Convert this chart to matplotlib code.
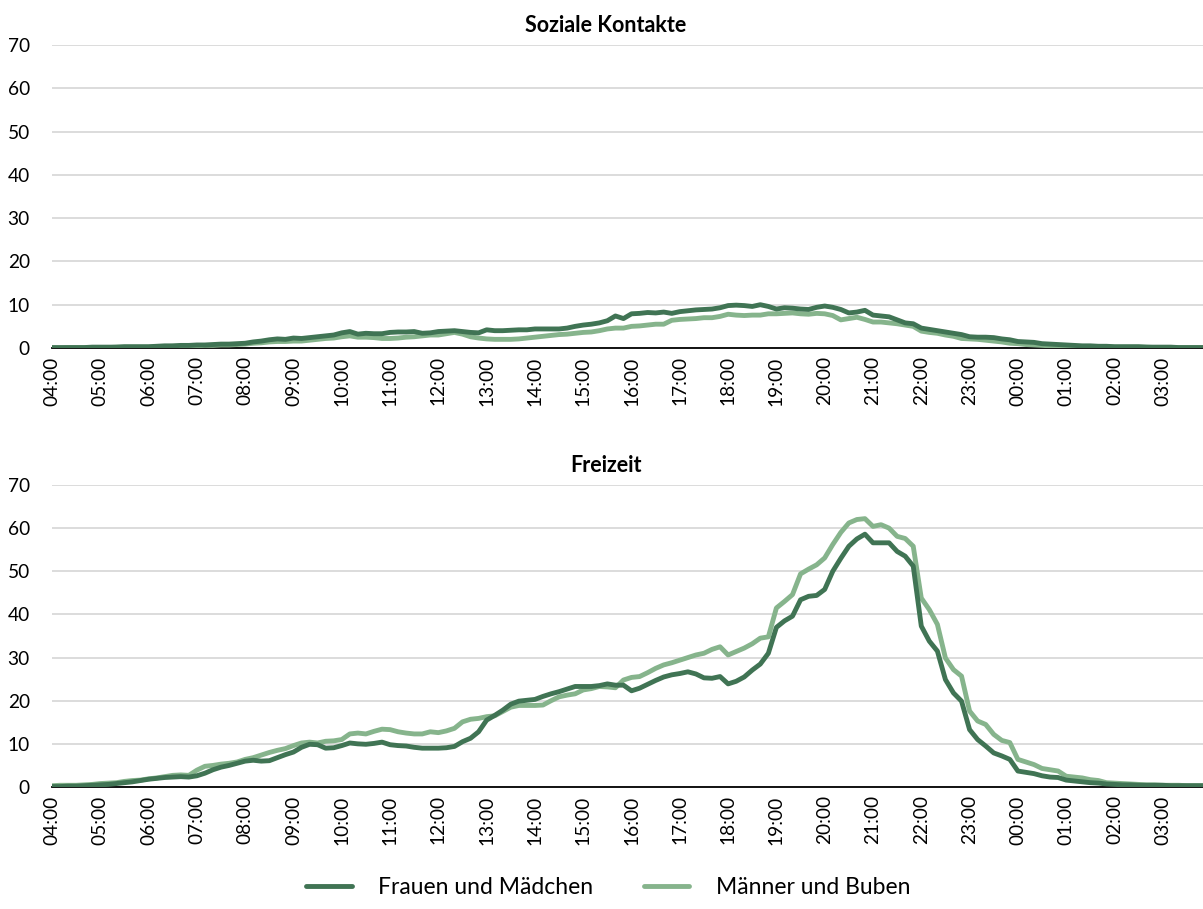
import matplotlib
matplotlib.use("Agg")
import matplotlib.pyplot as plt
import numpy as np

# 10-minute slots from 04:00 to 03:50
hour_labels = ["04:00", "05:00", "06:00", "07:00", "08:00", "09:00", "10:00", "11:00",
               "12:00", "13:00", "14:00", "15:00", "16:00", "17:00", "18:00", "19:00",
               "20:00", "21:00", "22:00", "23:00", "00:00", "01:00", "02:00", "03:00"]

series_names = ["Frauen und Mädchen", "Männer und Buben"]
panel_titles = ["Soziale Kontakte", "Freizeit"]

kontakte_frauen = [
    0.1, 0.1, 0.1, 0.1, 0.1, 0.2,
    0.2, 0.2, 0.2, 0.3, 0.3, 0.3,
    0.3, 0.4, 0.5, 0.5, 0.6, 0.6,
    0.7, 0.7, 0.8, 0.9, 0.9, 1.0,
    1.1, 1.4, 1.6, 1.9, 2.1, 2.0,
    2.3, 2.2, 2.4, 2.6, 2.8, 3.0,
    3.5, 3.8, 3.2, 3.4, 3.3, 3.3,
    3.6, 3.7, 3.7, 3.8, 3.4, 3.5,
    3.8, 3.9, 4.0, 3.8, 3.6, 3.5,
    4.2, 4.0, 4.0, 4.1, 4.2, 4.2,
    4.4, 4.4, 4.4, 4.4, 4.6, 5.0,
    5.3, 5.5, 5.8, 6.3, 7.4, 6.8,
    7.9, 8.0, 8.2, 8.1, 8.3, 8.0,
    8.4, 8.6, 8.8, 8.9, 9.0, 9.3,
    9.8, 9.9, 9.8, 9.6, 10.0, 9.6,
    9.0, 9.3, 9.2, 9.0, 8.9, 9.4,
    9.7, 9.4, 8.9, 8.1, 8.3, 8.7,
    7.6, 7.4, 7.2, 6.5, 5.8, 5.6,
    4.6, 4.3, 4.0, 3.7, 3.4, 3.1,
    2.6, 2.5, 2.5, 2.4, 2.1, 1.9,
    1.5, 1.4, 1.3, 1.0, 0.9, 0.8,
    0.7, 0.6, 0.5, 0.5, 0.4, 0.4,
    0.3, 0.3, 0.3, 0.3, 0.2, 0.2,
    0.2, 0.2, 0.1, 0.1, 0.1, 0.1,
]

kontakte_maenner = [
    0.0, 0.0, 0.1, 0.1, 0.1, 0.1,
    0.1, 0.1, 0.2, 0.2, 0.2, 0.2,
    0.2, 0.3, 0.3, 0.4, 0.4, 0.5,
    0.5, 0.6, 0.6, 0.7, 0.7, 0.8,
    0.9, 1.1, 1.2, 1.4, 1.5, 1.5,
    1.6, 1.6, 1.8, 2.0, 2.2, 2.3,
    2.6, 2.8, 2.5, 2.5, 2.4, 2.2,
    2.2, 2.3, 2.5, 2.6, 2.8, 3.0,
    3.0, 3.3, 3.6, 3.2, 2.6, 2.3,
    2.1, 2.0, 2.0, 2.0, 2.1, 2.3,
    2.5, 2.7, 2.9, 3.1, 3.2, 3.4,
    3.6, 3.7, 4.0, 4.4, 4.6, 4.6,
    5.0, 5.1, 5.3, 5.5, 5.5, 6.4,
    6.6, 6.7, 6.8, 7.0, 7.0, 7.3,
    7.8, 7.6, 7.5, 7.6, 7.6, 7.9,
    7.9, 8.0, 8.1, 7.9, 7.8, 8.0,
    7.9, 7.5, 6.5, 6.8, 7.1, 6.6,
    6.0, 6.0, 5.8, 5.6, 5.3, 5.0,
    3.9, 3.6, 3.4, 3.0, 2.7, 2.2,
    2.1, 2.0, 1.8, 1.6, 1.4, 1.1,
    1.0, 0.8, 0.7, 0.6, 0.5, 0.5,
    0.4, 0.4, 0.3, 0.3, 0.3, 0.3,
    0.2, 0.2, 0.2, 0.2, 0.2, 0.1,
    0.1, 0.1, 0.1, 0.1, 0.1, 0.1,
]

freizeit_frauen = [
    0.1, 0.1, 0.2, 0.2, 0.3, 0.4,
    0.5, 0.6, 0.8, 1.0, 1.2, 1.5,
    1.8, 2.0, 2.2, 2.3, 2.4, 2.3,
    2.6, 3.2, 4.0, 4.6, 5.0, 5.5,
    6.0, 6.2, 6.0, 6.1, 6.8, 7.5,
    8.1, 9.2, 9.9, 9.8, 9.0, 9.1,
    9.6, 10.2, 10.0, 9.9, 10.1, 10.4,
    9.8, 9.6, 9.5, 9.2, 9.0, 9.0,
    9.0, 9.1, 9.4, 10.5, 11.3, 12.8,
    15.5, 16.6, 17.8, 19.2, 19.9, 20.1,
    20.3, 21.0, 21.6, 22.1, 22.7, 23.3,
    23.3, 23.3, 23.5, 23.9, 23.6, 23.6,
    22.3, 22.9, 23.8, 24.7, 25.5, 26.0,
    26.3, 26.7, 26.2, 25.3, 25.2, 25.6,
    23.9, 24.5, 25.5, 27.1, 28.5, 31.0,
    37.0, 38.5, 39.6, 43.4, 44.2, 44.4,
    45.8, 50.0, 53.0, 55.8, 57.5, 58.6,
    56.6, 56.6, 56.6, 54.6, 53.5, 51.2,
    37.3, 33.8, 31.5, 24.9, 21.8, 19.9,
    13.3, 11.0, 9.5, 7.9, 7.2, 6.4,
    3.7, 3.4, 3.1, 2.6, 2.3, 2.2,
    1.6, 1.4, 1.2, 1.0, 0.9, 0.7,
    0.6, 0.5, 0.5, 0.4, 0.4, 0.4,
    0.4, 0.3, 0.3, 0.3, 0.3, 0.3,
]

freizeit_maenner = [
    0.3, 0.4, 0.4, 0.4, 0.5, 0.6,
    0.8, 0.9, 1.0, 1.3, 1.5, 1.6,
    1.9, 2.1, 2.4, 2.7, 2.8, 2.7,
    3.9, 4.8, 5.0, 5.3, 5.5, 5.8,
    6.4, 6.8, 7.4, 8.0, 8.5, 8.9,
    9.6, 10.2, 10.4, 10.2, 10.6, 10.7,
    11.0, 12.3, 12.5, 12.3, 12.9, 13.4,
    13.3, 12.8, 12.5, 12.3, 12.3, 12.8,
    12.6, 13.0, 13.6, 15.1, 15.7, 15.9,
    16.3, 16.5, 17.5, 18.5, 18.9, 18.9,
    18.9, 19.0, 20.0, 20.9, 21.3, 21.6,
    22.5, 22.8, 23.3, 23.2, 23.0, 24.8,
    25.4, 25.6, 26.5, 27.5, 28.3, 28.8,
    29.4, 30.0, 30.6, 31.0, 31.9, 32.5,
    30.6, 31.4, 32.2, 33.2, 34.5, 34.8,
    41.5, 43.0, 44.6, 49.4, 50.5, 51.5,
    53.1, 56.2, 59.0, 61.2, 62.0, 62.2,
    60.4, 60.8, 60.0, 58.1, 57.6, 55.8,
    43.8, 41.1, 37.7, 29.9, 27.2, 25.7,
    17.6, 15.3, 14.5, 12.2, 10.8, 10.3,
    6.4, 5.8, 5.2, 4.3, 4.0, 3.7,
    2.5, 2.3, 2.1, 1.7, 1.5, 1.0,
    0.9, 0.8, 0.7, 0.6, 0.5, 0.5,
    0.4, 0.4, 0.4, 0.3, 0.3, 0.3,
]

color_dark = "#407454"
color_light = "#86B48C"

plt.rcParams['font.family'] = ['Lato', 'DejaVu Sans']

W, H = 1203, 909
fig = plt.figure(figsize=(W / 100, H / 100), dpi=100)

def add_axes_px(left, top, right, bottom):
    return fig.add_axes([left / W, 1 - bottom / H, (right - left) / W, (bottom - top) / H])

ax_top = add_axes_px(52, 45, 1203, 348)
ax_bot = add_axes_px(52, 485, 1203, 787)

panels = [
    (ax_top, panel_titles[0], kontakte_frauen, kontakte_maenner, 25),
    (ax_bot, panel_titles[1], freizeit_frauen, freizeit_maenner, 465),
]

n = len(kontakte_frauen)
x = np.arange(n)

for ax, title, frauen, maenner, ty in panels:
    ax.plot(x, maenner, color=color_light, lw=3.5, solid_joinstyle='round',
            solid_capstyle='round', label=series_names[1], zorder=3)
    ax.plot(x, frauen, color=color_dark, lw=3.5, solid_joinstyle='round',
            solid_capstyle='round', label=series_names[0], zorder=4)
    ax.set_xlim(0, n - 1)
    ax.set_ylim(0, 70)
    ax.set_yticks(range(0, 71, 10))
    ax.set_xticks(np.arange(0, n, 6))
    ax.set_xticklabels(hour_labels, rotation=90, fontsize=13.8)
    ax.tick_params(axis='y', labelsize=13.8, length=0, pad=16)
    ax.tick_params(axis='x', length=0, pad=6)
    ax.grid(axis='y', color='#D9D9D9', lw=1.3)
    ax.set_axisbelow(True)
    for s in ['top', 'right', 'left']:
        ax.spines[s].set_visible(False)
    ax.spines['bottom'].set_color('black')
    ax.spines['bottom'].set_linewidth(1.3)
    ax.spines['bottom'].set_zorder(2)
    fig.text(606 / W, 1 - ty / H, title, fontsize=15.5, fontweight='bold',
             ha='center', va='center')

handles, labels = ax_bot.get_legend_handles_labels()
order = [1, 0]
fig.legend([handles[i] for i in order], [labels[i] for i in order],
           loc='center', bbox_to_anchor=(608 / W, 1 - 888 / H), ncol=2, frameon=False,
           fontsize=16.5, handlelength=2.0, columnspacing=2.2, handletextpad=1.15)

fig.savefig("out.png", dpi=100)
